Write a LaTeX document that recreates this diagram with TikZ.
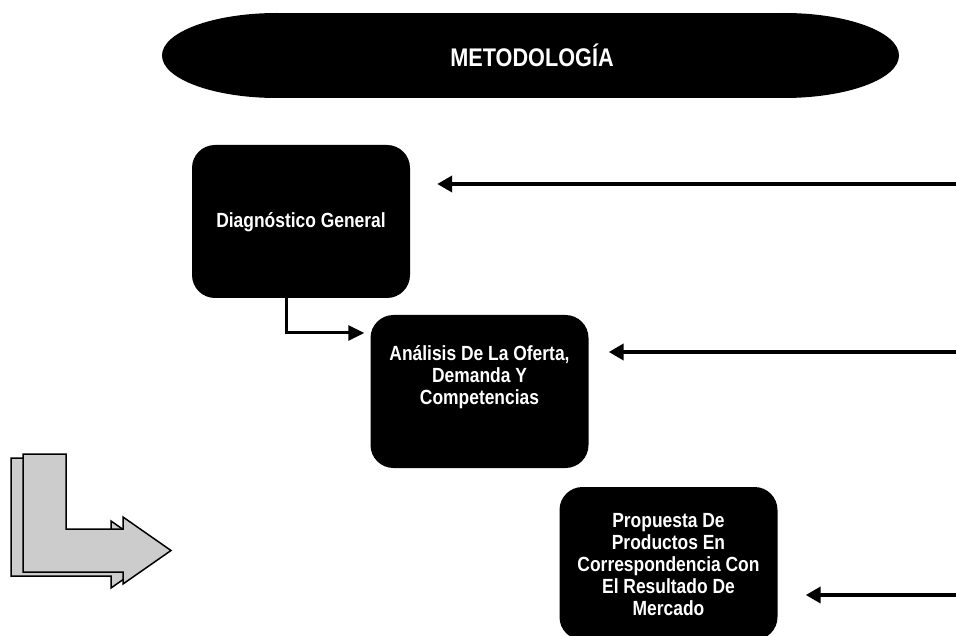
\documentclass[tikz,border=0pt]{standalone}
\usepackage{fontspec}
\setmainfont{Liberation Sans}[FakeStretch=0.85]
\usetikzlibrary{arrows.meta,calc}
\begin{document}
\begin{tikzpicture}[x=1pt,y=-1pt,
  box/.style={fill=black, rounded corners=23pt, minimum width=218pt, minimum height=153pt, inner sep=0pt},
  boxtext/.style={text=white, font=\bfseries\fontsize{20.5}{22}\selectfont, align=center, inner sep=0pt},
  feed/.style={line width=4pt, -{Triangle[length=15pt,width=16pt]}},
  link/.style={line width=3pt, -{Triangle[length=16pt,width=15pt]}},
  bent/.style={fill=gray!40, draw=black, line width=1.5pt, line join=miter}]
\useasboundingbox (0,0) rectangle (956,636);

% title shape
\fill (277,55.5) ellipse [x radius=115pt, y radius=42.5pt];
\fill (784,55.5) ellipse [x radius=115pt, y radius=42.5pt];
\fill (277,13) rectangle (784,98);
\node[text=white, font=\bfseries\fontsize{25.5}{30}\selectfont, inner sep=0pt] (title) at (532,55) {METODOLOGÍA};

% boxes
\node[box] (diag) at (301,221.5) {};
\node[boxtext] (diagt) at (301,222) {Diagnóstico General};
\node[box] (anal) at (479.5,391.5) {};
\node[boxtext] (analt) at (479.5,377) {Análisis De La Oferta,\\Demanda Y\\Competencias};
\node[box] (prop) at (668.5,563.5) {};
\node[boxtext] (propt) at (668.5,565) {Propuesta De\\Productos En\\Correspondencia Con\\El Resultado De\\Mercado};

% feedback arrows from the right
\coordinate (r1) at (956,184);
\coordinate (r2) at (956,352);
\coordinate (r3) at (956,595);
\draw[feed, shorten >=27pt] (r1) -- (diag.east |- r1);
\draw[feed, shorten >=20pt] (r2) -- (anal.east |- r2);
\draw[feed, shorten >=28pt] (r3) -- (prop.east |- r3);

% link
\draw[link, shorten >=6pt] ([xshift=-15pt]diag.south) |- ([yshift=58.5pt]anal.west);

% bent arrows
\draw[bent] (11,458) -- (54,458) -- (54,533) -- (111,533) -- (111,521) -- (159,554.5) -- (111,588) -- (111,576) -- (11,576) -- cycle;
\draw[bent] (23,454) -- (66,454) -- (66,529) -- (123,529) -- (123,517) -- (171,550.5) -- (123,584) -- (123,572) -- (23,572) -- cycle;
\end{tikzpicture}
\end{document}
